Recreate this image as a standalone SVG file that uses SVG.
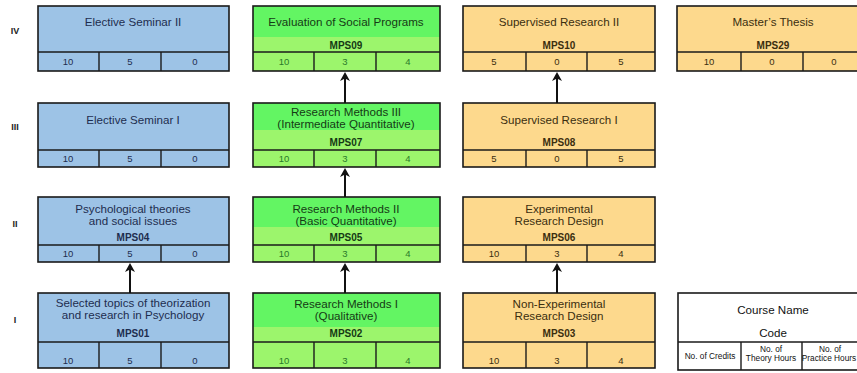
<svg xmlns="http://www.w3.org/2000/svg" width="857" height="373" viewBox="0 0 857 373">
<defs>
<marker id="ah" markerWidth="10" markerHeight="10" refX="5" refY="5" orient="auto" markerUnits="userSpaceOnUse">
<path d="M0,9 L5,0 L10,9 L5,6.5 Z" fill="#111" transform="rotate(90 5 5)"/>
</marker>
</defs>
<style>
text{font-family:"Liberation Sans",Arial,sans-serif;text-anchor:middle;}
.t{font-size:11.6px;}
.c{font-size:10px;font-weight:bold;}
.n{font-size:9.5px;}
.lbl{font-size:9px;font-weight:bold;fill:#222;}
.lg{font-size:8.3px;fill:#111;}
.box{fill:none;stroke:#1a1a1a;stroke-width:1.6;}
.div{stroke:#1a1a1a;stroke-width:1.4;}
.blue{fill:#9dc3e6;}
.g1{fill:#63f563;}
.g2{fill:#9cf56c;}
.yel{fill:#fdd98d;}
.bt{fill:#1d2d4f;}
.gt{fill:#153a15;}
.gn{fill:#2a7a2a;}
.yt{fill:#3b2e0f;}
.conn{stroke:#111;stroke-width:2;fill:none;}
</style>
<rect width="857" height="373" fill="#fff"/>
<g id="row-labels">
<text class="lbl" x="15" y="34">IV</text>
<text class="lbl" x="15" y="130">III</text>
<text class="lbl" x="15" y="227">II</text>
<text class="lbl" x="15" y="323">I</text>
</g>
<g id="es2">
<rect class="blue" x="38" y="6" width="191" height="65"/>
<rect class="box" x="38" y="6" width="191" height="65"/>
<line class="div" x1="38" y1="52" x2="229" y2="52"/>
<line class="div" x1="99" y1="52" x2="99" y2="71"/>
<line class="div" x1="161" y1="52" x2="161" y2="71"/>
<text class="t bt" x="133" y="26">Elective Seminar II</text>
<text class="n bt" x="68" y="65">10</text><text class="n bt" x="130" y="65">5</text><text class="n bt" x="195" y="65">0</text>
</g>
<g id="mps09">
<rect class="g1" x="253" y="6" width="187" height="31"/>
<rect class="g2" x="253" y="37" width="187" height="34"/>
<rect class="box" x="253" y="6" width="187" height="65"/>
<line class="div" x1="253" y1="52" x2="440" y2="52"/>
<line class="div" x1="314" y1="52" x2="314" y2="71"/>
<line class="div" x1="376" y1="52" x2="376" y2="71"/>
<text class="t gt" x="346" y="26">Evaluation of Social Programs</text>
<text class="c gt" x="346" y="49">MPS09</text>
<text class="n gn" x="284" y="65">10</text><text class="n gn" x="345" y="65">3</text><text class="n gn" x="408" y="65">4</text>
</g>
<g id="mps10">
<rect class="yel" x="463" y="6" width="192" height="65"/>
<rect class="box" x="463" y="6" width="192" height="65"/>
<line class="div" x1="463" y1="52" x2="655" y2="52"/>
<line class="div" x1="526" y1="52" x2="526" y2="71"/>
<line class="div" x1="587" y1="52" x2="587" y2="71"/>
<text class="t yt" x="559" y="26">Supervised Research II</text>
<text class="c yt" x="559" y="49">MPS10</text>
<text class="n yt" x="494" y="65">5</text><text class="n yt" x="557" y="65">0</text><text class="n yt" x="621" y="65">5</text>
</g>
<g id="mps29">
<rect class="yel" x="677" y="6" width="192" height="65"/>
<rect class="box" x="677" y="6" width="192" height="65"/>
<line class="div" x1="677" y1="52" x2="869" y2="52"/>
<line class="div" x1="741" y1="52" x2="741" y2="71"/>
<line class="div" x1="803" y1="52" x2="803" y2="71"/>
<text class="t yt" x="773" y="26">Master’s Thesis</text>
<text class="c yt" x="773" y="49">MPS29</text>
<text class="n yt" x="709" y="65">10</text><text class="n yt" x="772" y="65">0</text><text class="n yt" x="834" y="65">0</text>
</g>
<g id="es1">
<rect class="blue" x="38" y="103" width="191" height="64"/>
<rect class="box" x="38" y="103" width="191" height="64"/>
<line class="div" x1="38" y1="150" x2="229" y2="150"/>
<line class="div" x1="99" y1="150" x2="99" y2="167"/>
<line class="div" x1="161" y1="150" x2="161" y2="167"/>
<text class="t bt" x="133" y="124">Elective Seminar I</text>
<text class="n bt" x="68" y="162">10</text><text class="n bt" x="130" y="162">5</text><text class="n bt" x="195" y="162">0</text>
</g>
<g id="mps07">
<rect class="g1" x="253" y="103" width="187" height="27"/>
<rect class="g2" x="253" y="130" width="187" height="37"/>
<rect class="box" x="253" y="103" width="187" height="64"/>
<line class="div" x1="253" y1="150" x2="440" y2="150"/>
<line class="div" x1="314" y1="150" x2="314" y2="167"/>
<line class="div" x1="376" y1="150" x2="376" y2="167"/>
<text class="t gt" x="346" y="116">Research Methods III</text>
<text class="t gt" x="346" y="128">(Intermediate Quantitative)</text>
<text class="c gt" x="346" y="146">MPS07</text>
<text class="n gn" x="284" y="162">10</text><text class="n gn" x="345" y="162">3</text><text class="n gn" x="408" y="162">4</text>
</g>
<g id="mps08">
<rect class="yel" x="463" y="103" width="192" height="64"/>
<rect class="box" x="463" y="103" width="192" height="64"/>
<line class="div" x1="463" y1="150" x2="655" y2="150"/>
<line class="div" x1="526" y1="150" x2="526" y2="167"/>
<line class="div" x1="587" y1="150" x2="587" y2="167"/>
<text class="t yt" x="559" y="124">Supervised Research I</text>
<text class="c yt" x="559" y="146">MPS08</text>
<text class="n yt" x="494" y="162">5</text><text class="n yt" x="557" y="162">0</text><text class="n yt" x="621" y="162">5</text>
</g>
<g id="mps04">
<rect class="blue" x="38" y="197" width="191" height="65"/>
<rect class="box" x="38" y="197" width="191" height="65"/>
<line class="div" x1="38" y1="245" x2="229" y2="245"/>
<line class="div" x1="99" y1="245" x2="99" y2="262"/>
<line class="div" x1="161" y1="245" x2="161" y2="262"/>
<text class="t bt" x="133" y="213">Psychological theories</text>
<text class="t bt" x="133" y="225">and social issues</text>
<text class="c bt" x="133" y="241">MPS04</text>
<text class="n bt" x="68" y="257">10</text><text class="n bt" x="130" y="257">5</text><text class="n bt" x="195" y="257">0</text>
</g>
<g id="mps05">
<rect class="g1" x="253" y="197" width="187" height="30"/>
<rect class="g2" x="253" y="227" width="187" height="35"/>
<rect class="box" x="253" y="197" width="187" height="65"/>
<line class="div" x1="253" y1="245" x2="440" y2="245"/>
<line class="div" x1="314" y1="245" x2="314" y2="262"/>
<line class="div" x1="376" y1="245" x2="376" y2="262"/>
<text class="t gt" x="346" y="213">Research Methods II</text>
<text class="t gt" x="346" y="225">(Basic Quantitative)</text>
<text class="c gt" x="346" y="241">MPS05</text>
<text class="n gn" x="284" y="257">10</text><text class="n gn" x="345" y="257">3</text><text class="n gn" x="408" y="257">4</text>
</g>
<g id="mps06">
<rect class="yel" x="463" y="197" width="192" height="65"/>
<rect class="box" x="463" y="197" width="192" height="65"/>
<line class="div" x1="463" y1="245" x2="655" y2="245"/>
<line class="div" x1="526" y1="245" x2="526" y2="262"/>
<line class="div" x1="587" y1="245" x2="587" y2="262"/>
<text class="t yt" x="559" y="213">Experimental</text>
<text class="t yt" x="559" y="225">Research Design</text>
<text class="c yt" x="559" y="241">MPS06</text>
<text class="n yt" x="494" y="257">10</text><text class="n yt" x="557" y="257">3</text><text class="n yt" x="621" y="257">4</text>
</g>
<g id="mps01">
<rect class="blue" x="38" y="293" width="191" height="75"/>
<rect class="box" x="38" y="293" width="191" height="75"/>
<line class="div" x1="38" y1="342" x2="229" y2="342"/>
<line class="div" x1="99" y1="342" x2="99" y2="368"/>
<line class="div" x1="161" y1="342" x2="161" y2="368"/>
<text class="t bt" x="133" y="307">Selected topics of theorization</text>
<text class="t bt" x="133" y="319">and research in Psychology</text>
<text class="c bt" x="133" y="337">MPS01</text>
<text class="n bt" x="68" y="364">10</text><text class="n bt" x="130" y="364">5</text><text class="n bt" x="195" y="364">0</text>
</g>
<g id="mps02">
<rect class="g1" x="253" y="293" width="187" height="34"/>
<rect class="g2" x="253" y="327" width="187" height="41"/>
<rect class="box" x="253" y="293" width="187" height="75"/>
<line class="div" x1="253" y1="342" x2="440" y2="342"/>
<line class="div" x1="314" y1="342" x2="314" y2="368"/>
<line class="div" x1="376" y1="342" x2="376" y2="368"/>
<text class="t gt" x="346" y="308">Research Methods I</text>
<text class="t gt" x="346" y="320">(Qualitative)</text>
<text class="c gt" x="346" y="337">MPS02</text>
<text class="n gn" x="284" y="364">10</text><text class="n gn" x="345" y="364">3</text><text class="n gn" x="408" y="364">4</text>
</g>
<g id="mps03">
<rect class="yel" x="463" y="293" width="192" height="75"/>
<rect class="box" x="463" y="293" width="192" height="75"/>
<line class="div" x1="463" y1="342" x2="655" y2="342"/>
<line class="div" x1="526" y1="342" x2="526" y2="368"/>
<line class="div" x1="587" y1="342" x2="587" y2="368"/>
<text class="t yt" x="559" y="308">Non-Experimental</text>
<text class="t yt" x="559" y="320">Research Design</text>
<text class="c yt" x="559" y="337">MPS03</text>
<text class="n yt" x="494" y="364">10</text><text class="n yt" x="557" y="364">3</text><text class="n yt" x="621" y="364">4</text>
</g>
<g id="legend">
<rect x="678" y="293" width="190" height="77" fill="#fff"/>
<rect class="box" x="678" y="293" width="190" height="77"/>
<line class="div" x1="678" y1="342" x2="868" y2="342"/>
<line class="div" x1="741" y1="342" x2="741" y2="370"/>
<line class="div" x1="802" y1="342" x2="802" y2="370"/>
<text class="t" x="773" y="314" fill="#111">Course Name</text>
<text class="t" x="773" y="337" fill="#111">Code</text>
<text class="lg" x="710" y="359">No. of Credits</text>
<text class="lg" x="771" y="352">No. of</text>
<text class="lg" x="771" y="361">Theory Hours</text>
<text class="lg" x="830" y="352">No. of</text>
<text class="lg" x="829" y="361" font-size="7.6">Practice Hours</text>
</g>
<g id="connectors">
<line class="conn" x1="130" y1="293" x2="130" y2="268" marker-end="url(#ah)"/>
<line class="conn" x1="345" y1="293" x2="345" y2="268" marker-end="url(#ah)"/>
<line class="conn" x1="345" y1="197" x2="345" y2="173" marker-end="url(#ah)"/>
<line class="conn" x1="345" y1="103" x2="345" y2="77" marker-end="url(#ah)"/>
<line class="conn" x1="557" y1="293" x2="557" y2="268" marker-end="url(#ah)"/>
<line class="conn" x1="557" y1="103" x2="557" y2="77" marker-end="url(#ah)"/>
</g>
</svg>
